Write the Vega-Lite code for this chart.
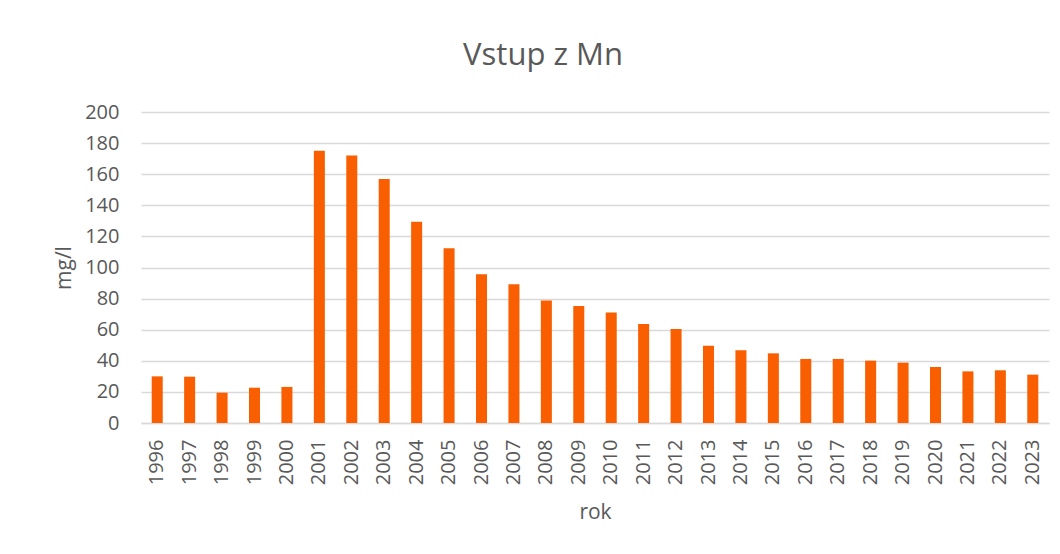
{
  "$schema": "https://vega.github.io/schema/vega-lite/v6.json",
  "autosize": {"type": "none"},
  "width": 908,
  "height": 311,
  "padding": {"left": 141, "top": 112, "right": 11, "bottom": 131},
  "background": "white",
  "title": {
    "text": "Vstup z Mn",
    "font": "Open Sans",
    "fontSize": 31,
    "fontWeight": "normal",
    "color": "#595959",
    "anchor": "middle",
    "dx": -52,
    "offset": 30
  },
  "data": {
    "values": [
      {"rok": "1996", "v": 30.0},
      {"rok": "1997", "v": 29.8},
      {"rok": "1998", "v": 19.5},
      {"rok": "1999", "v": 22.7},
      {"rok": "2000", "v": 23.2},
      {"rok": "2001", "v": 175.1},
      {"rok": "2002", "v": 172.1},
      {"rok": "2003", "v": 156.9},
      {"rok": "2004", "v": 129.4},
      {"rok": "2005", "v": 112.4},
      {"rok": "2006", "v": 95.7},
      {"rok": "2007", "v": 89.3},
      {"rok": "2008", "v": 78.8},
      {"rok": "2009", "v": 75.3},
      {"rok": "2010", "v": 71.0},
      {"rok": "2011", "v": 63.7},
      {"rok": "2012", "v": 60.5},
      {"rok": "2013", "v": 49.6},
      {"rok": "2014", "v": 46.8},
      {"rok": "2015", "v": 44.8},
      {"rok": "2016", "v": 41.2},
      {"rok": "2017", "v": 41.2},
      {"rok": "2018", "v": 40.1},
      {"rok": "2019", "v": 38.8},
      {"rok": "2020", "v": 36.0},
      {"rok": "2021", "v": 33.2},
      {"rok": "2022", "v": 33.9},
      {"rok": "2023", "v": 31.1}
    ]
  },
  "mark": {"type": "bar", "color": "#F95F00"},
  "encoding": {
    "x": {
      "field": "rok",
      "type": "ordinal",
      "scale": {"paddingInner": 0.66, "paddingOuter": 0.33},
      "axis": {
        "title": "rok",
        "labelAngle": -90,
        "labelFont": "Open Sans",
        "labelFontSize": 20,
        "labelColor": "#595959",
        "labelPadding": 16,
        "ticks": false,
        "domainColor": "#d9d9d9",
        "domainWidth": 1.5,
        "titleFont": "Open Sans",
        "titleFontSize": 21,
        "titleFontWeight": "normal",
        "titleColor": "#595959",
        "titlePadding": 17
      }
    },
    "y": {
      "field": "v",
      "type": "quantitative",
      "scale": {"domain": [0, 200], "nice": false},
      "axis": {
        "title": "mg/l",
        "values": [0, 20, 40, 60, 80, 100, 120, 140, 160, 180, 200],
        "labelFont": "Open Sans",
        "labelFontSize": 20,
        "labelColor": "#595959",
        "labelPadding": 22,
        "ticks": false,
        "domain": false,
        "gridColor": "#d9d9d9",
        "gridWidth": 1.5,
        "titleFont": "Open Sans",
        "titleFontSize": 21,
        "titleFontWeight": "normal",
        "titleColor": "#595959",
        "titlePadding": 10
      }
    }
  },
  "config": {"view": {"stroke": null}}
}
